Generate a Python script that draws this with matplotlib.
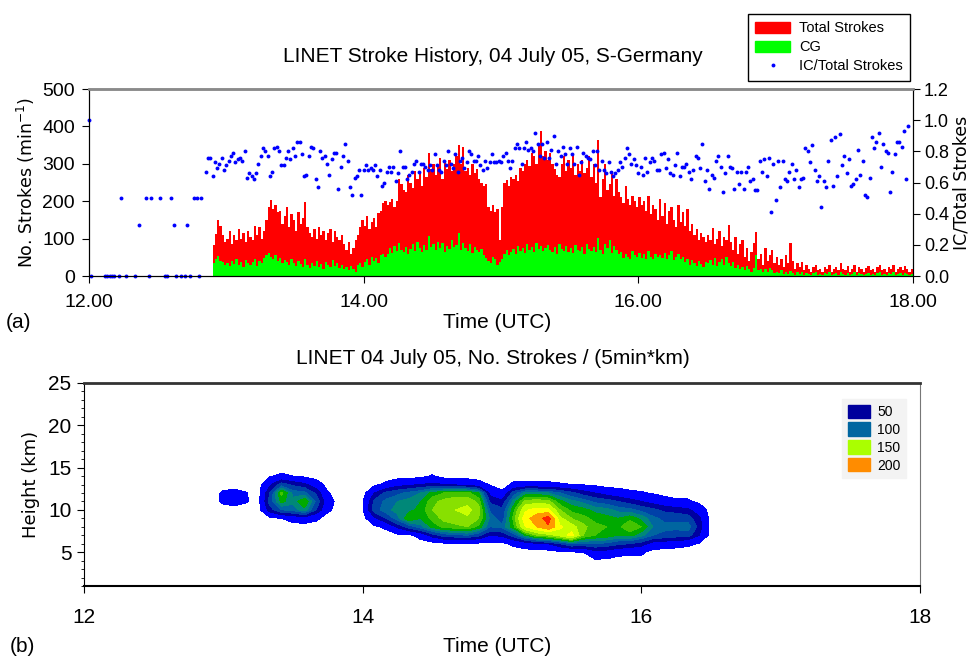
import numpy as np
import matplotlib
matplotlib.use("Agg")
import matplotlib.pyplot as plt
from matplotlib.patches import Patch
from matplotlib.lines import Line2D
from matplotlib.ticker import MultipleLocator

NARROW = ["Liberation Sans Narrow", "Liberation Sans", "DejaVu Sans"]
WIDE = ["DejaVu Sans"]

# ---------------------------------------------------------------
# panel (a): strokes per minute, first bar at 12:54 UTC
# ---------------------------------------------------------------
bars_start = "12:54"
total_strokes = [
    83, 112, 150, 135, 110, 90,
    100, 120, 85, 110, 95, 125, 100, 115, 90, 120,
    105, 95, 135, 110, 130, 100, 120, 150, 185, 203,
    180, 190, 170, 175, 140, 160, 185, 130, 165, 150,
    120, 170, 140, 155, 199, 130, 115, 105, 125, 100,
    130, 110, 120, 95, 115, 125, 90, 120, 105, 95,
    110, 85, 70, 90, 60, 75, 95, 110, 130, 150,
    135, 160, 125, 145, 155, 130, 168, 175, 195, 200,
    190, 198, 205, 185, 200, 260, 245, 230, 225, 270,
    250, 235, 280, 260, 275, 240, 290, 265, 330, 285,
    300, 270, 295, 315, 260, 305, 285, 310, 280, 300,
    320, 350, 300, 345, 280, 290, 270, 300, 275, 285,
    260, 250, 240, 245, 185, 175, 190, 170, 180, 96,
    185, 250, 257, 240, 265, 260, 270, 255, 290, 280,
    300, 310, 295, 330, 320, 300, 350, 388, 320, 335,
    310, 330, 300, 285, 270, 265, 300, 320, 280, 310,
    290, 325, 270, 300, 280, 310, 275, 290, 320, 265,
    300, 250, 363, 210, 260, 300, 230, 245, 280, 215,
    260, 225, 210, 195, 240, 205, 190, 215, 200, 185,
    210, 190, 200, 175, 215, 165, 190, 180, 150, 205,
    160, 195, 140, 175, 185, 150, 130, 190, 145, 170,
    135, 180, 120, 140, 110, 125, 95, 115, 105, 90,
    110, 95, 128, 85, 100, 120, 80, 105, 95, 136,
    90, 70, 105, 60, 85, 95, 50, 75, 40, 65,
    88, 118, 45, 60, 30, 75, 40, 55, 70, 35,
    50, 30, 45, 25, 55, 35, 89, 40, 20, 35,
    25, 38, 15, 30, 20, 10, 25, 30, 15, 20,
    12, 25, 18, 30, 10, 20, 25, 15, 35, 20,
    15, 28, 10, 20, 30, 12, 25, 18, 10, 22,
    28, 15, 20, 10, 25, 30, 15, 20, 12, 25,
    18, 30, 12, 20, 25, 15, 28, 20, 10, 18,
]
cg_strokes = [
    35, 45, 53, 40, 38, 30,
    35, 28, 40, 32, 45, 30, 38, 25, 42, 35,
    30, 38, 45, 28, 40, 35, 48, 55, 62, 50,
    45, 55, 40, 48, 35, 42, 38, 30, 45, 35,
    28, 40, 32, 25, 45, 30, 22, 35, 28, 40,
    25, 32, 20, 38, 30, 25, 42, 28, 35, 22,
    30, 18, 25, 15, 28, 20, 12, 30, 35, 25,
    38, 45, 30, 52, 40, 48, 35, 55, 60, 52,
    58, 75, 62, 80, 68, 87, 70, 65, 78, 60,
    72, 85, 68, 90, 75, 65, 82, 70, 107, 78,
    85, 70, 92, 75, 88, 65, 80, 72, 95, 78,
    82, 114, 70, 88, 75, 68, 85, 62, 78, 70,
    65, 72, 55, 48, 40, 35, 52, 45, 30, 38,
    45, 60, 70, 55, 65, 72, 60, 80, 68, 75,
    62, 85, 70, 78, 65, 88, 72, 80, 68, 75,
    82, 70, 65, 78, 60, 85, 72, 68, 80, 65,
    75, 62, 82, 70, 66, 78, 60, 85, 72, 68,
    78, 65, 102, 70, 60, 85, 75, 96, 62, 80,
    70, 58, 65, 48, 60, 52, 45, 68, 55, 50,
    62, 48, 58, 45, 66, 52, 45, 60, 50, 55,
    48, 62, 45, 55, 68, 42, 50, 58, 45, 52,
    38, 45, 30, 42, 35, 28, 40, 32, 25, 38,
    35, 42, 30, 48, 28, 38, 45, 30, 52, 35,
    28, 38, 22, 30, 18, 25, 15, 28, 20, 12,
    22, 56, 15, 20, 10, 18, 12, 22, 15, 8,
    12, 8, 15, 6, 10, 5, 14, 8, 4, 10,
    6, 10, 4, 8, 5, 3, 7, 10, 4, 6,
    3, 8, 5, 10, 3, 6, 8, 4, 10, 5,
    4, 9, 3, 6, 10, 4, 7, 5, 3, 6,
    8, 4, 6, 3, 7, 10, 4, 6, 3, 8,
    5, 10, 3, 6, 8, 4, 9, 6, 3, 5,
]

# IC/total before the storm: minute after 12:00 and ratio
ratio_early_min = [0, 1, 7, 8, 9, 10, 11, 13, 14, 16, 20, 22, 25, 26, 27,
                   31, 33, 34, 36, 37, 38, 40, 42, 43, 44, 46, 47, 48, 49]
ratio_early = [1.0, 0, 0, 0, 0, 0, 0, 0, 0.5, 0, 0, 0.33, 0.5, 0, 0.5,
               0.5, 0, 0, 0.5, 0.33, 0, 0, 0, 0.33, 0, 0.5, 0.5, 0, 0.5]

# IC/total per minute from 12:51 on
ratio_start = "12:51"
ratio_main = [
    0.67, 0.76, 0.76, 0.64, 0.73, 0.69, 0.72, 0.76, 0.68, 0.71,
    0.74, 0.77, 0.79, 0.73, 0.75, 0.76, 0.74, 0.80, 0.63, 0.66,
    0.64, 0.62, 0.66, 0.72, 0.77, 0.82, 0.80, 0.77, 0.64, 0.67,
    0.82, 0.83, 0.80, 0.71, 0.71, 0.76, 0.80, 0.75, 0.82, 0.77,
    0.86, 0.86, 0.78, 0.64, 0.65, 0.77, 0.83, 0.82, 0.62, 0.57,
    0.80, 0.76, 0.77, 0.72, 0.65, 0.75, 0.79, 0.79, 0.56, 0.70,
    0.77, 0.85, 0.74, 0.57, 0.52, 0.63, 0.64, 0.68, 0.52, 0.68,
    0.71, 0.68, 0.69, 0.68, 0.71, 0.64, 0.68, 0.58, 0.60, 0.67,
    0.70, 0.67, 0.70, 0.61, 0.66, 0.80, 0.70, 0.70, 0.62, 0.65,
    0.67, 0.72, 0.74, 0.67, 0.72, 0.72, 0.70, 0.68, 0.71, 0.68,
    0.78, 0.71, 0.68, 0.67, 0.74, 0.71, 0.80, 0.72, 0.69, 0.78,
    0.67, 0.74, 0.76, 0.69, 0.73, 0.80, 0.78, 0.74, 0.74, 0.77,
    0.71, 0.68, 0.74, 0.69, 0.73, 0.78, 0.73, 0.73, 0.74, 0.73,
    0.77, 0.79, 0.74, 0.69, 0.74, 0.82, 0.85, 0.82, 0.72, 0.82,
    0.86, 0.81, 0.82, 0.80, 0.92, 0.85, 0.77, 0.85, 0.76, 0.86,
    0.76, 0.81, 0.90, 0.72, 0.80, 0.77, 0.83, 0.78, 0.72, 0.82,
    0.78, 0.72, 0.83, 0.65, 0.73, 0.79, 0.77, 0.76, 0.75, 0.80,
    0.71, 0.80, 0.68, 0.74, 0.68, 0.66, 0.73, 0.67, 0.64, 0.66,
    0.68, 0.73, 0.70, 0.76, 0.82, 0.78, 0.72, 0.75, 0.71, 0.66,
    0.70, 0.65, 0.76, 0.67, 0.73, 0.76, 0.74, 0.68, 0.68, 0.78,
    0.79, 0.69, 0.75, 0.66, 0.65, 0.71, 0.79, 0.64, 0.70, 0.70,
    0.72, 0.67, 0.62, 0.68, 0.77, 0.76, 0.69, 0.85, 0.61, 0.68,
    0.56, 0.65, 0.63, 0.74, 0.77, 0.70, 0.54, 0.66, 0.77, 0.70,
    0.69, 0.56, 0.67, 0.59, 0.67, 0.56, 0.67, 0.70, 0.61, 0.62,
    0.55, 0.55, 0.74, 0.67, 0.75, 0.64, 0.76, 0.41, 0.72, 0.49,
    0.74, 0.57, 0.74, 0.62, 0.61, 0.67, 0.72, 0.62, 0.68, 0.57,
    0.62, 0.63, 0.82, 0.80, 0.73, 0.84, 0.68, 0.61, 0.64, 0.44,
    0.61, 0.57, 0.74, 0.87, 0.58, 0.89, 0.64, 0.91, 0.71, 0.77,
    0.66, 0.75, 0.58, 0.59, 0.62, 0.81, 0.65, 0.74, 0.52, 0.51,
    0.63, 0.89, 0.82, 0.86, 0.92, 0.70, 0.85, 0.80, 0.79, 0.54,
    0.67, 0.78, 0.86, 0.86, 0.83, 0.93, 0.62, 0.96,
]

# ---------------------------------------------------------------
# panel (b): strokes per 5 min and km, one row per 5-min bin
# ---------------------------------------------------------------
grid_start = "12:55"
grid_heights = [3, 4, 5, 6, 7, 8, 9, 10, 11, 12, 13, 14, 15]
strokes_grid = [
    [0, 0, 0, 0, 0, 0, 0, 0, 0, 0, 0, 0, 0],              # 12:55
    [0, 0, 0, 0, 0, 0, 0, 0, 15, 14, 0, 0, 0],
    [0, 0, 0, 0, 0, 0, 0, 0, 20, 18, 0, 0, 0],
    [0, 0, 0, 0, 0, 0, 0, 0, 12, 11, 0, 0, 0],
    [0, 0, 0, 0, 0, 0, 0, 0, 0, 0, 0, 0, 0],              # 13:15
    [0, 0, 0, 0, 0, 0, 5, 50, 70, 60, 35, 8, 0],
    [0, 0, 0, 0, 0, 0, 10, 80, 115, 130, 70, 15, 0],
    [0, 0, 0, 0, 0, 0, 20, 85, 100, 90, 55, 10, 0],
    [0, 0, 0, 0, 0, 0, 25, 105, 125, 85, 45, 5, 0],
    [0, 0, 0, 0, 0, 0, 15, 60, 75, 55, 25, 0, 0],
    [0, 0, 0, 0, 0, 0, 0, 15, 22, 12, 0, 0, 0],
    [0, 0, 0, 0, 0, 0, 0, 0, 0, 0, 0, 0, 0],
    [0, 0, 0, 0, 0, 0, 0, 0, 0, 0, 0, 0, 0],              # 13:55
    [0, 0, 0, 0, 0, 0, 0, 8, 8, 0, 0, 0, 0],
    [0, 0, 0, 0, 0, 5, 35, 70, 65, 40, 5, 0, 0],
    [0, 0, 0, 0, 0, 15, 60, 90, 85, 65, 15, 0, 0],
    [0, 0, 0, 0, 5, 45, 90, 100, 95, 75, 30, 0, 0],
    [0, 0, 0, 0, 5, 70, 125, 105, 100, 85, 35, 0, 0],
    [0, 0, 0, 0, 20, 90, 110, 115, 110, 95, 40, 3, 0],
    [0, 0, 0, 0, 50, 115, 130, 140, 135, 115, 45, 12, 0],
    [0, 0, 0, 5, 70, 130, 145, 150, 145, 125, 40, 0, 0],
    [0, 0, 0, 5, 75, 135, 150, 160, 150, 130, 35, 0, 0],
    [0, 0, 0, 5, 80, 140, 155, 170, 150, 130, 30, 0, 0],
    [0, 0, 0, 5, 65, 120, 140, 145, 135, 110, 20, 0, 0],
    [0, 0, 0, 5, 40, 80, 90, 75, 55, 30, 8, 0, 0],        # 14:55
    [0, 0, 0, 5, 45, 85, 70, 65, 45, 15, 0, 0, 0],
    [0, 0, 0, 15, 70, 120, 130, 120, 100, 70, 15, 0, 0],
    [0, 0, 0, 25, 110, 185, 200, 180, 145, 100, 15, 0, 0],
    [0, 0, 0, 35, 140, 210, 225, 195, 150, 100, 15, 0, 0],
    [0, 0, 0, 40, 150, 235, 255, 190, 145, 95, 15, 0, 0],
    [0, 0, 5, 60, 170, 190, 165, 140, 115, 80, 12, 0, 0],
    [0, 0, 8, 80, 195, 170, 140, 120, 100, 65, 10, 0, 0],
    [0, 0, 10, 75, 140, 145, 130, 115, 90, 50, 8, 0, 0],
    [0, 6, 30, 80, 125, 130, 120, 105, 75, 40, 5, 0, 0],
    [0, 5, 28, 75, 120, 125, 115, 100, 70, 30, 0, 0, 0],
    [0, 0, 20, 65, 110, 120, 110, 90, 60, 22, 0, 0, 0],
    [0, 0, 15, 60, 115, 140, 120, 85, 50, 15, 0, 0, 0],
    [0, 3, 15, 50, 100, 125, 105, 75, 40, 12, 0, 0, 0],   # 16:00
    [0, 0, 0, 30, 80, 95, 85, 65, 30, 8, 0, 0, 0],
    [0, 0, 0, 25, 75, 85, 75, 55, 20, 3, 0, 0, 0],
    [0, 0, 0, 20, 70, 85, 75, 50, 15, 0, 0, 0, 0],
    [0, 0, 0, 15, 70, 90, 70, 45, 14, 0, 0, 0, 0],
    [0, 0, 0, 8, 40, 50, 45, 25, 5, 0, 0, 0, 0],
    [0, 0, 0, 0, 0, 0, 0, 0, 0, 0, 0, 0, 0],
    [0, 0, 0, 0, 0, 0, 0, 0, 0, 0, 0, 0, 0],              # 16:35
]
contour_levels = [10, 40, 60, 80, 95, 110, 125, 140, 160, 185, 210, 240, 270]
contour_colors = ["#0000ff", "#0000a0", "#0040a8", "#0066a0", "#008878",
                  "#00aa00", "#44c400", "#88e000", "#c8ff00", "#ffff00",
                  "#ff9900", "#ff2200"]
legend_values = ["50", "100", "150", "200"]
legend_colors = ["#00009c", "#0066a0", "#aaff00", "#ff8c00"]


def hours(hhmm):
    h, m = hhmm.split(":")
    return int(h) + int(m) / 60


W, H = 973, 661
fig = plt.figure(figsize=(W / 100, H / 100), dpi=100)

# ===============================================================
# (a) stroke history
# ===============================================================
ax1 = fig.add_axes([89 / W, 1 - 276 / H, (913 - 89) / W, (276 - 89) / H])
t_bars = hours(bars_start) + np.arange(len(total_strokes)) / 60
ax1.bar(t_bars, total_strokes, width=1 / 60, align="edge", color="#ff0000", linewidth=0)
ax1.bar(t_bars, cg_strokes, width=1 / 60, align="edge", color="#00ff00", linewidth=0)
ax1.set_xlim(12, 18)
ax1.set_ylim(0, 500)
ax1.set_xticks([12, 14, 16, 18])
ax1.set_xticklabels(["12.00", "14.00", "16.00", "18.00"])
ax1.set_yticks(range(0, 501, 100))
ax1.tick_params(labelsize=14, length=5, pad=5)
ax1.tick_params(axis="x", pad=8)
for lab in ax1.get_xticklabels() + ax1.get_yticklabels():
    lab.set_family(NARROW)
ax1.set_ylabel("No. Strokes (min$^{-1}$)", family=WIDE, fontsize=12.5, labelpad=4)

ax2 = ax1.twinx()
t_ratio = np.concatenate([12 + np.array(ratio_early_min) / 60,
                          hours(ratio_start) + np.arange(len(ratio_main)) / 60])
ratio_all = np.concatenate([ratio_early, ratio_main])
ax2.plot(t_ratio, ratio_all, "o", ms=2.8, color="#0000ff", mew=0, clip_on=False)
ax2.set_ylim(0, 1.2)
ax2.set_yticks(np.arange(0, 1.21, 0.2))
ax2.set_yticklabels([f"{v:.1f}" for v in np.arange(0, 1.21, 0.2)])
ax2.tick_params(labelsize=13, length=5, pad=3)
for lab in ax2.get_yticklabels():
    lab.set_family(NARROW)
ax2.set_ylabel("IC/Total Strokes", family=WIDE, fontsize=12.5, labelpad=2)

for ax in (ax1, ax2):
    ax.spines["top"].set_color("#8a8a8a")
    ax.spines["top"].set_linewidth(1.8)

fig.text(493 / W, 1 - 57 / H, "LINET Stroke History, 04 July 05, S-Germany",
         ha="center", va="center", family=NARROW, fontsize=15)
fig.text(497 / W, 1 - 322 / H, "Time (UTC)", ha="center", va="center",
         family=NARROW, fontsize=15)
fig.text(6 / W, 1 - 322 / H, "(a)", ha="left", va="center", family=NARROW, fontsize=15)

handles = [Patch(color="#ff0000"), Patch(color="#00ff00"),
           Line2D([], [], ls="none", marker="o", ms=2.8, color="#0000ff", mew=0)]
fig.legend(handles, ["Total Strokes", "CG", "IC/Total Strokes"],
           loc="upper right", bbox_to_anchor=(910 / W, 1 - 14 / H), borderaxespad=0,
           prop={"family": NARROW, "size": 10.5}, frameon=True, fancybox=False,
           edgecolor="black", framealpha=1, handlelength=2.4, handleheight=0.8,
           borderpad=0.5, labelspacing=0.35, handletextpad=0.6)

# ===============================================================
# (b) stroke density contour
# ===============================================================
axb = fig.add_axes([84 / W, 1 - 586 / H, (920 - 84) / W, (586 - 383) / H])
t_grid = hours(grid_start) + 5 * np.arange(len(strokes_grid)) / 60
z = np.array(strokes_grid).T
axb.contourf(t_grid, grid_heights, z, levels=contour_levels, colors=contour_colors)
axb.set_xlim(12, 18)
axb.set_ylim(1, 25)
axb.set_xticks([12, 14, 16, 18])
axb.set_yticks([5, 10, 15, 20, 25])
axb.yaxis.set_minor_locator(MultipleLocator(1))
axb.tick_params(labelsize=15, length=5, pad=4)
axb.tick_params(axis="x", pad=11)
axb.tick_params(which="minor", length=2.5)
for lab in axb.get_xticklabels() + axb.get_yticklabels():
    lab.set_family(NARROW)
axb.set_ylabel("Height (km)", family=WIDE, fontsize=13, labelpad=6)
axb.spines["top"].set_linewidth(2)
axb.spines["top"].set_color("#333333")
axb.spines["right"].set_color("#777777")
axb.spines["bottom"].set_linewidth(1.5)

fig.text(493 / W, 1 - 358 / H, "LINET 04 July 05, No. Strokes / (5min*km)",
         ha="center", va="center", family=NARROW, fontsize=15)
fig.text(497 / W, 1 - 646 / H, "Time (UTC)", ha="center", va="center",
         family=NARROW, fontsize=15)
fig.text(10 / W, 1 - 646 / H, "(b)", ha="left", va="center", family=NARROW, fontsize=15)

axb.legend([Patch(color=c) for c in legend_colors], legend_values,
           loc="upper right", bbox_to_anchor=(906 / W, 1 - 399 / H),
           bbox_transform=fig.transFigure, borderaxespad=0,
           prop={"family": NARROW, "size": 10}, frameon=True, fancybox=False,
           facecolor="#f3f3f3", edgecolor="#f3f3f3", framealpha=1,
           handlelength=1.6, handleheight=1.1, labelspacing=0.25,
           handletextpad=0.5, borderpad=0.4)

fig.savefig("out.png", dpi=100)
